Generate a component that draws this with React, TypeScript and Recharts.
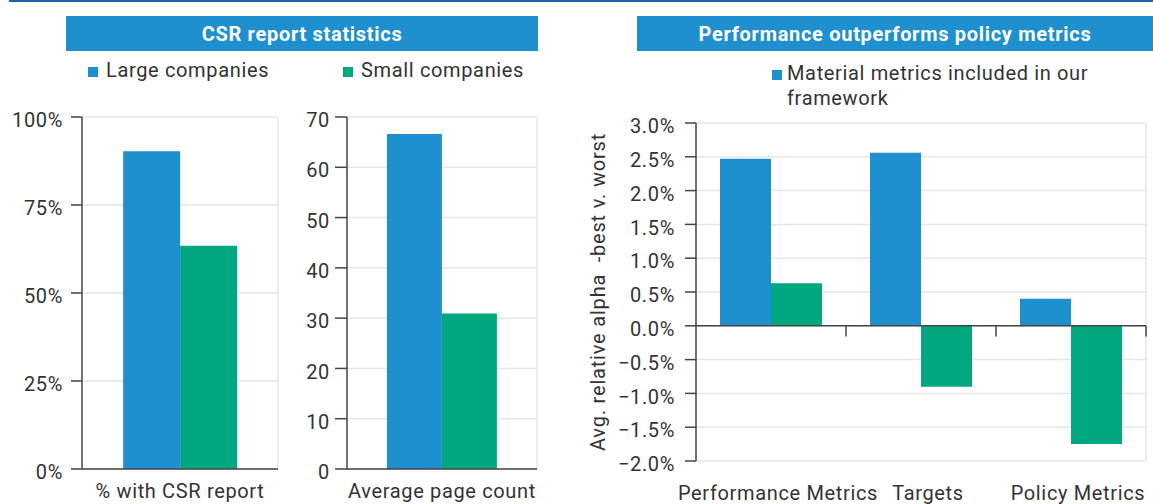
import { BarChart, Bar, XAxis, YAxis, CartesianGrid, ReferenceLine } from "recharts";

// CSR report statistics
const csrCategories = ["% with CSR report"];
const csrLarge = [0.903];
const csrSmall = [0.634];

const pageCategories = ["Average page count"];
const pageLarge = [66.6];
const pageSmall = [30.9];

const pctTicks = [0, 0.25, 0.5, 0.75, 1];
const pageTicks = [0, 10, 20, 30, 40, 50, 60, 70];
const companySeries = ["Large companies", "Small companies"];

// Performance outperforms policy metrics (values in %)
const metricCategories = ["Performance Metrics", "Targets", "Policy Metrics"];
const metricMaterial = [2.47, 2.56, 0.4];
const metricOther = [0.63, -0.9, -1.75];
const alphaTicks = [-2, -1.5, -1, -0.5, 0, 0.5, 1, 1.5, 2, 2.5, 3];
const metricLegend = "Material metrics included in our framework";
const alphaLabel = "Avg. relative alpha  -best v. worst";

const BLUE = "#1e8fcf";
const GREEN = "#00a77f";
const TEXT = "#333333";
const GRID = "#e6e6e6";
const AXIS = "#444444";
const FONT = "Roboto, sans-serif";
const SPACING = "0.65px";

const csrData = csrCategories.map((name, i) => ({ name, large: csrLarge[i], small: csrSmall[i] }));
const pageData = pageCategories.map((name, i) => ({ name, large: pageLarge[i], small: pageSmall[i] }));
// slot = middle of each category on a 0..n number line, used to place the category boundary ticks
const metricData = metricCategories.map((name, i) => ({
  name,
  slot: i + 0.5,
  material: metricMaterial[i],
  other: metricOther[i],
}));
const boundaries = metricCategories.map((_, i) => i + 1);

const tickStyle = { fill: TEXT, fontSize: 20, fontFamily: FONT, letterSpacing: SPACING };
const yTickStyle = { ...tickStyle, dy: 3 };
const rightEdge = ({ offset }: any) => [offset.left + offset.width];

function Square({ color }: { color: string }) {
  return <span style={{ display: "inline-block", width: 10, height: 10, background: color, marginRight: 8 }} />;
}

function TitleBar({ text, left, width }: { text: string; left: number; width: number }) {
  return (
    <div
      style={{
        position: "absolute",
        left,
        top: 16,
        width,
        height: 35,
        background: BLUE,
        color: "#fff",
        fontWeight: 700,
        fontSize: 20,
        letterSpacing: "0.7px",
        display: "flex",
        alignItems: "center",
        justifyContent: "center",
      }}
    >
      {text}
    </div>
  );
}

function CsrChart() {
  return (
    <BarChart width={290} height={404} data={csrData} margin={{ top: 17, right: 12, left: 0, bottom: 0 }} barCategoryGap="21%" barGap={0}>
      <CartesianGrid stroke={GRID} strokeWidth={1.5} verticalCoordinatesGenerator={rightEdge} />
      <XAxis dataKey="name" height={35} tick={tickStyle} tickLine={false} tickSize={0} tickMargin={15} axisLine={{ stroke: AXIS, strokeWidth: 1.5 }} />
      <YAxis
        width={82}
        domain={[0, 1]}
        ticks={pctTicks}
        tickFormatter={(v) => `${Math.round(v * 100)}%`}
        tick={yTickStyle}
        tickSize={11}
        tickMargin={8}
        axisLine={{ stroke: AXIS, strokeWidth: 1.5 }}
        tickLine={{ stroke: AXIS, strokeWidth: 1.5 }}
      />
      <Bar dataKey="large" name={companySeries[0]} fill={BLUE} isAnimationActive={false} />
      <Bar dataKey="small" name={companySeries[1]} fill={GREEN} isAnimationActive={false} />
    </BarChart>
  );
}

function PageChart() {
  return (
    <BarChart width={260} height={404} data={pageData} margin={{ top: 17, right: 13, left: 0, bottom: 0 }} barCategoryGap="21%" barGap={0}>
      <CartesianGrid stroke={GRID} strokeWidth={1.5} verticalCoordinatesGenerator={rightEdge} />
      <XAxis dataKey="name" height={35} tick={tickStyle} tickLine={false} tickSize={0} tickMargin={15} axisLine={{ stroke: AXIS, strokeWidth: 1.5 }} />
      <YAxis
        width={57}
        domain={[0, 70]}
        ticks={pageTicks}
        tick={yTickStyle}
        tickSize={12}
        tickMargin={5}
        axisLine={{ stroke: AXIS, strokeWidth: 1.5 }}
        tickLine={{ stroke: AXIS, strokeWidth: 1.5 }}
      />
      <Bar dataKey="large" name={companySeries[0]} fill={BLUE} isAnimationActive={false} />
      <Bar dataKey="small" name={companySeries[1]} fill={GREEN} isAnimationActive={false} />
    </BarChart>
  );
}

function AlphaLabel(props: any) {
  const { viewBox } = props;
  const cx = viewBox.x + 18;
  const cy = viewBox.y + viewBox.height / 2;
  return (
    <text
      x={cx}
      y={cy}
      transform={`rotate(-90 ${cx} ${cy})`}
      textAnchor="middle"
      dominantBaseline="central"
      fill={TEXT}
      fontSize={20}
      fontFamily={FONT}
      style={{ whiteSpace: "pre", letterSpacing: "0.8px" }}
    >
      {alphaLabel}
    </text>
  );
}

function MetricChart() {
  return (
    <BarChart width={573} height={404} data={metricData} margin={{ top: 23, right: 7, left: 0, bottom: 0 }} barCategoryGap="16%" barGap={0}>
      <CartesianGrid stroke={GRID} strokeWidth={1.5} verticalCoordinatesGenerator={rightEdge} />
      <XAxis dataKey="name" height={43} tick={{ ...tickStyle, dx: 7 }} tickLine={false} tickSize={0} tickMargin={25} axisLine={false} />
      <XAxis xAxisId="edge" dataKey="slot" type="number" domain={[0, metricCategories.length]} allowDataOverflow hide />
      <YAxis
        width={116}
        domain={[-2, 3]}
        ticks={alphaTicks}
        tickFormatter={(v) => `${v < 0 ? "\u2212" : ""}${Math.abs(v).toFixed(1)}%`}
        tick={yTickStyle}
        tickSize={11}
        tickMargin={10}
        axisLine={{ stroke: AXIS, strokeWidth: 1.5 }}
        tickLine={{ stroke: AXIS, strokeWidth: 1.5 }}
        label={{ content: AlphaLabel }}
      />
      <Bar dataKey="material" name={metricLegend} fill={BLUE} isAnimationActive={false} />
      <Bar dataKey="other" name="Other metrics" fill={GREEN} isAnimationActive={false} />
      <ReferenceLine y={0} stroke={AXIS} strokeWidth={1.5} />
      {boundaries.map((b) => (
        <ReferenceLine
          key={b}
          xAxisId="edge"
          segment={[
            { x: b, y: 0 },
            { x: b, y: -0.16 },
          ]}
          stroke={AXIS}
          strokeWidth={1.5}
          ifOverflow="visible"
        />
      ))}
    </BarChart>
  );
}

export default function App() {
  return (
    <div style={{ position: "absolute", left: 0, top: 0, width: 1153, height: 504, background: "#fff", fontFamily: FONT, color: TEXT, overflow: "hidden" }}>
      <div style={{ position: "absolute", left: 9, top: 0, width: 1144, height: 2, background: "#1565a8" }} />
      <TitleBar text="CSR report statistics" left={66} width={472} />
      <TitleBar text="Performance outperforms policy metrics" left={637} width={516} />

      <div style={{ position: "absolute", left: 88, top: 56, fontSize: 20, letterSpacing: SPACING, lineHeight: "28px", whiteSpace: "nowrap" }}>
        <Square color={BLUE} />
        {companySeries[0]}
      </div>
      <div style={{ position: "absolute", left: 343, top: 56, fontSize: 20, letterSpacing: SPACING, lineHeight: "28px", whiteSpace: "nowrap" }}>
        <Square color={GREEN} />
        {companySeries[1]}
      </div>

      <div style={{ position: "absolute", left: 772, top: 61, width: 330, display: "flex", fontSize: 20, letterSpacing: SPACING, lineHeight: "25px" }}>
        <span style={{ display: "inline-block", width: 10, height: 10, background: BLUE, marginRight: 5, marginTop: 9, flex: "none" }} />
        <span>{metricLegend}</span>
      </div>

      <div style={{ position: "absolute", left: 0, top: 100 }}>
        <CsrChart />
      </div>
      <div style={{ position: "absolute", left: 290, top: 100 }}>
        <PageChart />
      </div>
      <div style={{ position: "absolute", left: 580, top: 100 }}>
        <MetricChart />
      </div>
    </div>
  );
}
